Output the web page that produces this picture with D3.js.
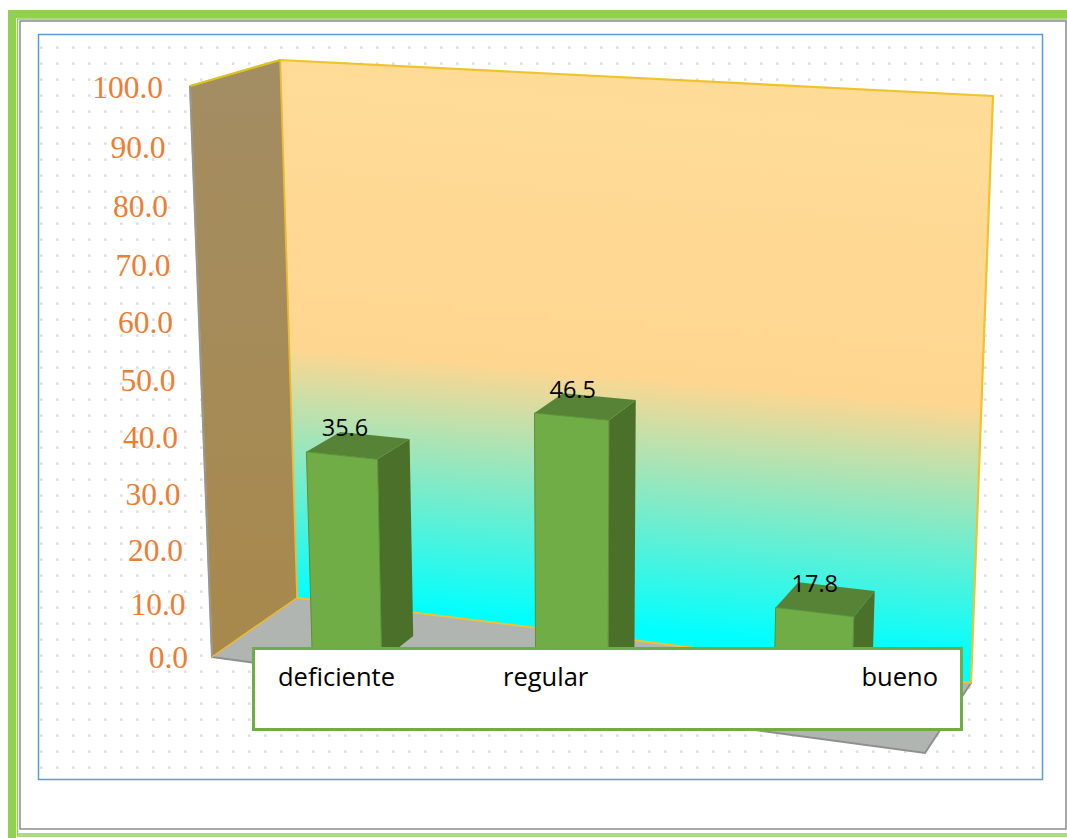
<!DOCTYPE html>
<html>
<head>
<meta charset="utf-8">
<script src="https://cdn.jsdelivr.net/npm/d3@7"></script>
<style>
  html, body { margin: 0; padding: 0; background: #fff; }
  svg { display: block; }
</style>
</head>
<body>
<div id="chart"></div>
<script>
// Chart data
const categories = ["deficiente", "regular", "bueno"];
const values = [35.6, 46.5, 17.8];
const tickValues = [0, 10, 20, 30, 40, 50, 60, 70, 80, 90, 100];

// Layout of the oblique box
const width = 1067, height = 838;
const floorCorners = { nl: [212, 657], bl: [297, 598], br: [971, 683], nr: [925, 753] };
const unitHeight = { nl: 5.71, bl: 5.38, br: 5.87, nr: 6.2 };
const unitLean = { nl: -0.22, bl: -0.17, br: 0.22, nr: 0.22 };
const barCentres = [0.1605, 0.4805, 0.8225];
const barWidths = [0.099, 0.103, 0.11];
const labelNudge = [3, 1, 0];
const legendTextX = [278, 503, 861.5];
const tickBaselines = [668, 615, 561, 505, 448, 391, 333, 276, 217, 158, 98];

const barFront = 0.26, barBack = 0.67, barShrink = 0.99;

const mix = (c, u, v) =>
  (1 - u) * (1 - v) * c.nl + u * (1 - v) * c.nr + (1 - u) * v * c.bl + u * v * c.br;

const xCorners = { nl: floorCorners.nl[0], bl: floorCorners.bl[0], br: floorCorners.br[0], nr: floorCorners.nr[0] };
const yCorners = { nl: floorCorners.nl[1], bl: floorCorners.bl[1], br: floorCorners.br[1], nr: floorCorners.nr[1] };

// Position of a value above a point of the floor (u along the categories, v into the depth)
const project = (u, v, value, shrink = 1) => {
  const heightScale = d3.scaleLinear().domain([0, 1]).range([0, mix(unitHeight, u, v) * shrink]);
  const leanScale = d3.scaleLinear().domain([0, 1]).range([0, mix(unitLean, u, v)]);
  return [mix(xCorners, u, v) + leanScale(value), mix(yCorners, u, v) - heightScale(value)];
};

const uScale = d3.scaleOrdinal().domain(categories).range(barCentres);
const widthScale = d3.scaleOrdinal().domain(categories).range(barWidths);
const nudgeScale = d3.scaleOrdinal().domain(categories).range(labelNudge);
const legendX = d3.scaleOrdinal().domain(categories).range(legendTextX);
const tickY = d3.scaleLinear().domain(tickValues).range(tickBaselines);
const tickX = d3.scaleLinear().domain([0, 100]).range([188, 163]);

const svg = d3.select("#chart").append("svg").attr("width", width).attr("height", height);
const defs = svg.append("defs");

// Dotted background of the chart area
const dots = defs.append("pattern").attr("id", "dots").attr("patternUnits", "userSpaceOnUse")
  .attr("x", 33).attr("y", 40).attr("width", 16).attr("height", 16);
dots.append("rect").attr("x", 7).attr("y", 6.3).attr("width", 2.6).attr("height", 2.6).attr("fill", "#e0e0e0");

const wallGradient = defs.append("linearGradient").attr("id", "wallFill")
  .attr("gradientUnits", "userSpaceOnUse")
  .attr("x1", 640).attr("y1", 78).attr("x2", 593).attr("y2", 626);
wallGradient.selectAll("stop")
  .data([["0%", "#fedc98"], ["54%", "#ffd690"], ["100%", "#00ffff"]])
  .join("stop").attr("offset", d => d[0]).attr("stop-color", d => d[1]);

const sideGradient = defs.append("linearGradient").attr("id", "sideFill")
  .attr("x1", 0).attr("y1", 0).attr("x2", 0).attr("y2", 1);
sideGradient.selectAll("stop")
  .data([["0%", "#a38d63"], ["100%", "#a8894c"]])
  .join("stop").attr("offset", d => d[0]).attr("stop-color", d => d[1]);

// Page frame
svg.append("rect").attr("x", 12).attr("y", 14).attr("width", 1070).attr("height", 840)
  .attr("fill", "none").attr("stroke", "#92d050").attr("stroke-width", 8);
svg.append("rect").attr("x", 17.5).attr("y", 19).attr("width", 1060).attr("height", 817)
  .attr("fill", "none").attr("stroke", "#92d050").attr("stroke-width", 1.5);
svg.append("rect").attr("x", 20).attr("y", 21).attr("width", 1046).attr("height", 808)
  .attr("fill", "#fff").attr("stroke", "#8c8c8c").attr("stroke-width", 1.5);
svg.append("line").attr("x1", 17).attr("x2", 1067).attr("y1", 834).attr("y2", 834)
  .attr("stroke", "#92d050").attr("stroke-width", 1.5);

// Chart area
svg.append("rect").attr("x", 38.5).attr("y", 34.5).attr("width", 1004).attr("height", 745)
  .attr("fill", "#fff").attr("stroke", "#5b9bd5").attr("stroke-width", 1.5);
svg.append("rect").attr("x", 40).attr("y", 44).attr("width", 1000).attr("height", 730).attr("fill", "url(#dots)");

const polygon = pts => d3.line()(pts) + "Z";
const plot = svg.append("g");

// Walls and floor of the box
const maxValue = d3.max(tickValues);
plot.append("path")
  .attr("d", polygon([project(0, 1, maxValue), project(1, 1, maxValue), project(1, 1, 0), project(0, 1, 0)]))
  .attr("fill", "url(#wallFill)").attr("stroke", "#f0c22c").attr("stroke-width", 2.2).attr("stroke-linejoin", "round");
plot.append("path")
  .attr("d", polygon([project(0, 0, maxValue), project(0, 1, maxValue), project(0, 1, 0), project(0, 0, 0)]))
  .attr("fill", "url(#sideFill)").attr("stroke", "#e8b93a").attr("stroke-width", 1.5);
plot.append("path")
  .attr("d", d3.line()([project(0, 0, maxValue), project(0, 1, maxValue)]))
  .attr("fill", "none").attr("stroke", "#dcc21f").attr("stroke-width", 2.2);
plot.append("path")
  .attr("d", d3.line()([project(0, 0, maxValue), project(0, 0, 0)]))
  .attr("fill", "none").attr("stroke", "#969696").attr("stroke-width", 2);
plot.append("path")
  .attr("d", polygon([project(0, 0, 0), project(0, 1, 0), project(1, 1, 0), project(1, 0, 0)]))
  .attr("fill", "#b1b5b1");
plot.append("path")
  .attr("d", d3.line()([project(0, 0, 0), project(1, 0, 0), project(1, 1, 0)]))
  .attr("fill", "none").attr("stroke", "#8f8f8f").attr("stroke-width", 2);
plot.append("path")
  .attr("d", d3.line()([project(0, 1, 0), project(1, 1, 0)]))
  .attr("fill", "none").attr("stroke", "#f2c230").attr("stroke-width", 1.5);
plot.append("path")
  .attr("d", d3.line()([project(0, 0, 0), project(0, 1, 0)]))
  .attr("fill", "none").attr("stroke", "#e8b93a").attr("stroke-width", 1.5);

// Value axis labels step outward along the near edge of the side wall
svg.append("g").selectAll("text").data(tickValues).join("text")
  .attr("x", d => tickX(d))
  .attr("y", d => tickY(d))
  .attr("text-anchor", "end")
  .attr("font-family", "'Liberation Serif', serif")
  .attr("font-size", 31.5)
  .attr("fill", "#ed7d31")
  .text(d => d.toFixed(1));

// Bars
const bars = plot.selectAll("g.bar")
  .data(categories.map((c, i) => ({ category: c, value: values[i] })))
  .join("g").attr("class", "bar");

const u0 = d => uScale(d.category) - widthScale(d.category) / 2;
const u1 = d => uScale(d.category) + widthScale(d.category) / 2;
const barTop = (u, v, d) => project(u, v, d.value, barShrink);
const barBase = (u, v) => project(u, v, 0);

bars.append("path").attr("fill", "#4a7029")
  .attr("d", d => polygon([
    barTop(u1(d), barFront, d), barTop(u1(d), barBack, d),
    barBase(u1(d), barBack), barBase(u1(d), barFront)]));
bars.append("path").attr("fill", "#568336")
  .attr("d", d => polygon([
    barTop(u0(d), barFront, d), barTop(u0(d), barBack, d),
    barTop(u1(d), barBack, d), barTop(u1(d), barFront, d)]));
bars.append("path").attr("fill", "#70ad47").attr("stroke", "#5c9139").attr("stroke-width", 1)
  .attr("d", d => polygon([
    barTop(u0(d), barFront, d), barTop(u1(d), barFront, d),
    barBase(u1(d), barFront), barBase(u0(d), barFront)]));

// Value labels sit just above the front edge of each bar
bars.append("text")
  .attr("x", d => barTop(uScale(d.category), barFront, d)[0] + nudgeScale(d.category))
  .attr("y", d => barTop(u0(d), barFront, d)[1] - 15.5)
  .attr("text-anchor", "middle")
  .attr("font-family", "'Open Sans', sans-serif")
  .attr("font-size", 23.5)
  .attr("fill", "#000")
  .text(d => d.value.toFixed(1));

// Category box over the base of the bars
svg.append("rect").attr("x", 253.5).attr("y", 648.5).attr("width", 708).attr("height", 81)
  .attr("fill", "#fff").attr("stroke", "#70ad47").attr("stroke-width", 3);
svg.append("g").selectAll("text").data(categories).join("text")
  .attr("x", d => legendX(d))
  .attr("y", 686)
  .attr("font-family", "'Open Sans', sans-serif")
  .attr("font-size", 25.5)
  .attr("fill", "#000")
  .text(d => d);
</script>
</body>
</html>
